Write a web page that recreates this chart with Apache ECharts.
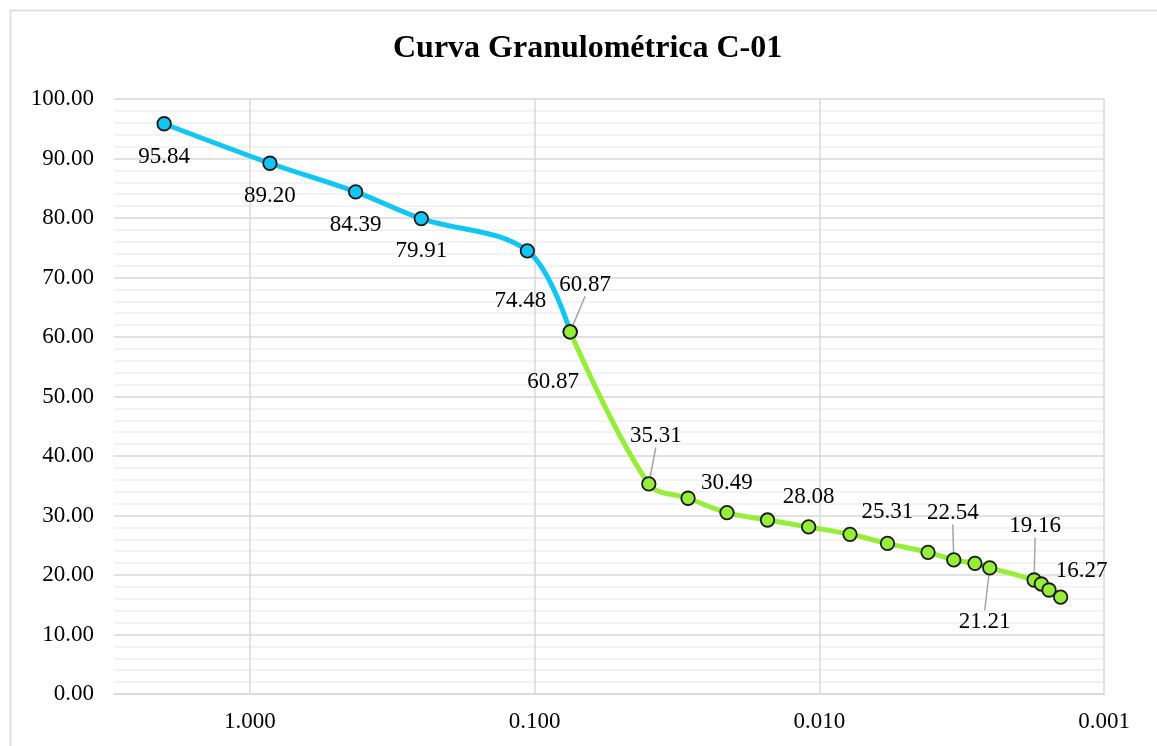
<!DOCTYPE html>
<html>
<head>
<meta charset="utf-8">
<title>Curva Granulométrica C-01</title>
<script src="https://cdn.jsdelivr.net/npm/echarts@6/dist/echarts.min.js"></script>
<style>
  html, body { margin: 0; padding: 0; background: #fff; }
  #chart { width: 1157px; height: 746px; }
</style>
</head>
<body>
<div id="chart"></div>
<script>
// tamiz (mm) y % que pasa
var gravaArenaX = [2.00, 0.850, 0.425, 0.250, 0.106, 0.075]
var gravaArenaY = [95.84, 89.20, 84.39, 79.91, 74.48, 60.87]

// hidrometro
var finosX = [0.075, 0.0397, 0.0289, 0.0211, 0.0152, 0.0109, 0.0078, 0.00576,
  0.00415, 0.00337, 0.00284, 0.00252, 0.00176, 0.00166, 0.00156, 0.00142]
var finosY = [60.87, 35.31, 32.90, 30.49, 29.24, 28.08, 26.84, 25.31,
  23.81, 22.54, 21.96, 21.21, 19.16, 18.49, 17.48, 16.27]

var xTicks = [1, 0.1, 0.01, 0.001]

// posicion de etiquetas [dx, dy, lineaGuia]
var gravaArenaLabels = [[0, 33], [0, 33], [0, 33], [0, 32], [-7, 50], [-17, 50]]
var finosLabels = {
  0: [15, -47, true],
  1: [7, -48, true],
  3: [0, -30],
  5: [0, -30],
  7: [0, -31],
  9: [-1, -47, true],
  11: [-5, 54, true],
  12: [1, -54, true],
  15: [21, -26]
}

var FONT = '"Liberation Serif", "Times New Roman", serif'
var BLUE = '#12c6f3'
var GREEN = '#96ee3a'

function buildData(xs, ys, labels) {
  return xs.map(function (x, i) {
    var lab = labels[i]
    return {
      value: [x, ys[i]],
      label: { show: !!lab },
      labelLine: { show: !!(lab && lab[2]) }
    }
  })
}

function layoutFrom(labels) {
  return function (p) {
    var lab = labels[p.dataIndex]
    if (!lab) return {}
    return { dx: lab[0], dy: lab[1] }
  }
}

var labelStyle = {
  position: 'inside',
  fontFamily: FONT,
  fontSize: 23,
  color: '#000',
  formatter: function (p) { return p.value[1].toFixed(2) }
}

var option = {
  animation: false,
  backgroundColor: '#fff',
  title: {
    text: 'Curva Granulométrica C-01',
    left: 393,
    top: 33,
    padding: 0,
    textStyle: {
      fontFamily: FONT,
      fontSize: 32,
      fontWeight: 'bold',
      color: '#000'
    }
  },
  graphic: [{
    type: 'rect',
    shape: { x: 10.5, y: 10.5, width: 1300, height: 900 },
    style: { fill: 'none', stroke: '#d9d9d9', lineWidth: 1.5 },
    silent: true
  }],
  grid: {
    left: 114,
    right: 53,
    top: 99,
    bottom: 52
  },
  xAxis: {
    type: 'log',
    logBase: 10,
    min: 0.001,
    max: 3,
    inverse: true,
    axisLine: { show: true, lineStyle: { color: '#d9d9d9', width: 1.5 } },
    axisTick: { show: false },
    axisLabel: {
      margin: 16,
      fontFamily: FONT,
      fontSize: 23,
      color: '#000',
      showMaxLabel: false,
      formatter: function (v) {
        for (var i = 0; i < xTicks.length; i++) {
          if (Math.abs(v - xTicks[i]) / xTicks[i] < 1e-6) return xTicks[i].toFixed(3)
        }
        return ''
      }
    },
    splitLine: {
      show: true,
      showMaxLine: false,
      lineStyle: { color: '#d9d9d9', width: 1.5 }
    }
  },
  yAxis: {
    type: 'value',
    min: 0,
    max: 100,
    interval: 10,
    axisLine: { show: false },
    axisTick: { show: false },
    axisLabel: {
      margin: 20,
      fontFamily: FONT,
      fontSize: 23,
      color: '#000',
      formatter: function (v) { return v.toFixed(2) }
    },
    splitLine: { lineStyle: { color: '#d9d9d9', width: 1.5 } },
    minorTick: { show: false, splitNumber: 5 },
    minorSplitLine: { show: true, lineStyle: { color: '#efefef', width: 1.5 } }
  },
  series: [
    {
      name: 'Tamizado',
      type: 'line',
      smooth: 0.35,
      data: buildData(gravaArenaX, gravaArenaY, gravaArenaLabels),
      symbol: 'circle',
      symbolSize: 13.5,
      lineStyle: { color: BLUE, width: 5 },
      itemStyle: { color: BLUE, borderColor: '#1a1a1a', borderWidth: 1.8 },
      label: labelStyle,
      labelLayout: layoutFrom(gravaArenaLabels),
      labelLine: { lineStyle: { color: '#a6a6a6', width: 1.5 } },
      z: 2
    },
    {
      name: 'Hidrometro',
      type: 'line',
      smooth: 0.35,
      data: buildData(finosX, finosY, finosLabels),
      symbol: 'circle',
      symbolSize: 13.5,
      lineStyle: { color: GREEN, width: 5 },
      itemStyle: { color: GREEN, borderColor: '#1a1a1a', borderWidth: 1.8 },
      label: labelStyle,
      labelLayout: layoutFrom(finosLabels),
      labelLine: { lineStyle: { color: '#a6a6a6', width: 1.5 } },
      z: 3
    }
  ]
}

var myChart = echarts.init(document.getElementById('chart'))
myChart.setOption(option)
window.addEventListener('resize', function () { myChart.resize() })
</script>
</body>
</html>
